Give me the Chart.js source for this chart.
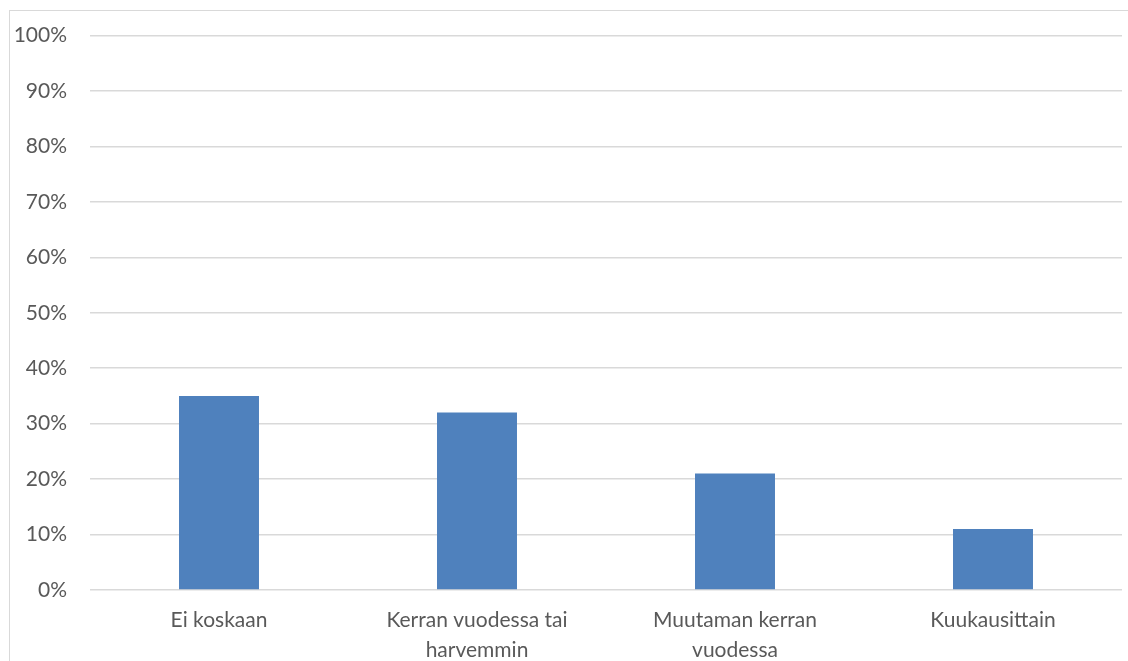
<!DOCTYPE html>
<html>
<head>
<meta charset="utf-8">
<script src="https://cdn.jsdelivr.net/npm/chart.js@4"></script>
<style>
  html, body { margin: 0; padding: 0; background: #fff; overflow: hidden; }
  #frame {
    position: absolute; left: 9px; top: 10px; width: 1130px; height: 660px;
    border-left: 1px solid #d9d9d9; border-top: 1px solid #d9d9d9;
  }
  #wrap { position: absolute; left: 0; top: -11px; width: 1118px; height: 661px; }
</style>
</head>
<body>
<div id="frame"><div id="wrap"><canvas id="myChart"></canvas></div></div>
<script>
// kategoriat ja arvot (%)
const categories = [
    ['Ei koskaan'],
    ['Kerran vuodessa tai', 'harvemmin'],
    ['Muutaman kerran', 'vuodessa'],
    ['Kuukausittain']
];
const values = [35, 32, 21, 11];
const yTicks = [0, 10, 20, 30, 40, 50, 60, 70, 80, 90, 100];

const ctx = document.getElementById('myChart').getContext('2d');

const myChart = new Chart(ctx, {
    type: 'bar',
    data: {
        labels: categories,
        datasets: [{
            data: values,
            backgroundColor: '#4f81bd',
            borderWidth: 0,
            barPercentage: 0.31,
            categoryPercentage: 1
        }]
    },
    options: {
        responsive: true,
        maintainAspectRatio: false,
        animation: false,
        events: [],
        layout: { padding: { top: 13, right: 6, left: 0, bottom: 0 } },
        plugins: {
            legend: { display: false },
            tooltip: { enabled: false }
        },
        scales: {
            x: {
                grid: { display: false, drawTicks: false },
                border: { display: false },
                ticks: {
                    color: '#595959',
                    font: { family: 'Lato', size: 21, lineHeight: 1.43 },
                    padding: 15,
                    maxRotation: 0,
                    autoSkip: false
                },
                afterFit: (axis) => { axis.height = 71; }
            },
            y: {
                min: 0,
                max: 100,
                afterBuildTicks: (axis) => { axis.ticks = yTicks.map(v => ({ value: v })); },
                grid: { color: '#d9d9d9', lineWidth: 1.5, drawTicks: false },
                border: { display: false },
                ticks: {
                    color: '#595959',
                    font: { family: 'Lato', size: 21 },
                    padding: 23,
                    callback: (v) => v + '%'
                },
                afterFit: (axis) => { axis.width = 80; }
            }
        }
    }
});
</script>
</body>
</html>
